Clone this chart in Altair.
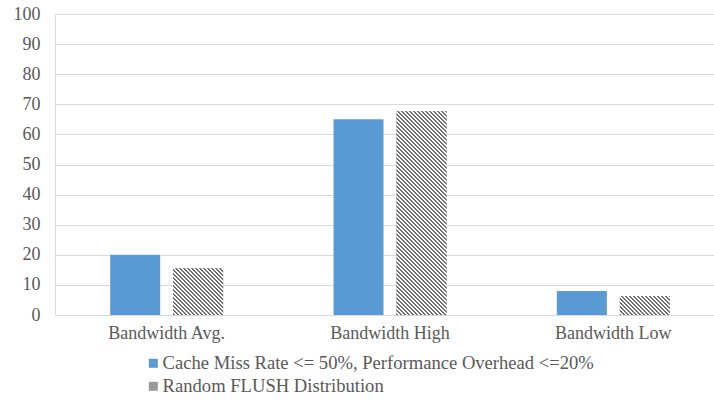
import altair as alt
import pandas as pd

categories = ["Bandwidth Avg.", "Bandwidth High", "Bandwidth Low"]
series_names = [
    "Cache Miss Rate <= 50%, Performance Overhead <=20%",
    "Random FLUSH Distribution",
]
cache_miss = [20, 65, 8]
random_flush = [15.5, 67.7, 6.3]

series_colors = ["#5b9bd5", "#9a9a9a"]
FONT = "Liberation Serif"
TEXT = "#595959"
FS = 18

PLOT_W, PLOT_H = 659, 301
BAND_SPAN = 670  # category axis runs slightly past the right edge
Y_MAX = 100
OFF_PAD_IN, OFF_PAD_OUT = 0.206, 0.876

rows = []
for cat, a, b in zip(categories, cache_miss, random_flush):
    rows.append({"category": cat, "series": series_names[0], "value": a})
    rows.append({"category": cat, "series": series_names[1], "value": b})
df = pd.DataFrame(rows)

# bar width in pixels, derived from the band scales below
step = BAND_SPAN / len(categories)
bar_w = step / (2 - OFF_PAD_IN + 2 * OFF_PAD_OUT) * (1 - OFF_PAD_IN)


def hatch(value, period=4.0, dark="#6e6e6e", light="#ffffff"):
    """Diagonal stripe fill as a hard-stop linear gradient in bbox units."""
    w = bar_w
    h = value * PLOT_H / Y_MAX
    span = w + h
    k = span / (w * w + h * h)
    stops = []
    n = int(span / period) + 1
    for i in range(n):
        t0 = min(i * period / span, 1)
        tm = min((i + 0.5) * period / span, 1)
        t1 = min((i + 1) * period / span, 1)
        stops += [
            alt.GradientStop(offset=t0, color=dark),
            alt.GradientStop(offset=tm, color=dark),
            alt.GradientStop(offset=tm, color=light),
            alt.GradientStop(offset=t1, color=light),
        ]
    return alt.LinearGradient(
        gradient="linear", stops=stops, x1=0, y1=1, x2=w * k, y2=1 - h * k
    )


x_enc = alt.X(
    "category:N",
    sort=categories,
    scale=alt.Scale(range=[0, BAND_SPAN], paddingInner=0, paddingOuter=0),
    axis=alt.Axis(
        title=None, labelAngle=0, ticks=False, domain=False, grid=False,
        labelFont=FONT, labelFontSize=FS, labelColor=TEXT, labelPadding=9,
    ),
)
off_enc = alt.XOffset(
    "series:N",
    sort=series_names,
    scale=alt.Scale(paddingInner=OFF_PAD_IN, paddingOuter=OFF_PAD_OUT),
)
y_enc = alt.Y(
    "value:Q",
    scale=alt.Scale(domain=[0, Y_MAX], nice=False),
    axis=alt.Axis(
        values=list(range(0, 101, 10)), title=None, ticks=False, domain=False,
        gridColor="#d9d9d9", gridWidth=1,
        labelFont=FONT, labelFontSize=FS, labelColor=TEXT, labelPadding=15,
    ),
)

base = alt.Chart(df).mark_bar().encode(
    x=x_enc,
    xOffset=off_enc,
    y=y_enc,
    color=alt.Color(
        "series:N",
        sort=series_names,
        scale=alt.Scale(domain=series_names, range=series_colors),
        legend=alt.Legend(
            title=None, orient="none", legendX=89, legendY=340,
            direction="vertical", symbolType="square", symbolSize=81,
            symbolStrokeWidth=0, labelFont=FONT, labelFontSize=18.6,
            labelColor=TEXT, labelOffset=0, rowPadding=4, labelLimit=700,
        ),
    ),
)

# striped overlays for the second series, one per category
overlays = []
for cat, v in zip(categories, random_flush):
    overlays.append(
        alt.Chart(df)
        .transform_filter(
            (alt.datum.category == cat) & (alt.datum.series == series_names[1])
        )
        .mark_bar(fill=hatch(v), strokeWidth=0)
        .encode(x=x_enc, xOffset=off_enc, y=y_enc)
    )

chart = (
    alt.layer(base, *overlays)
    .properties(
        width=PLOT_W,
        height=PLOT_H,
        autosize=alt.AutoSizeParams(type="none"),
        padding={"left": 55, "top": 14, "right": 0, "bottom": 85},
    )
    .configure_view(stroke=None)
    .configure(background="white", font=FONT)
)

chart.save("out.html", embed_options={"renderer": "svg", "actions": False})
